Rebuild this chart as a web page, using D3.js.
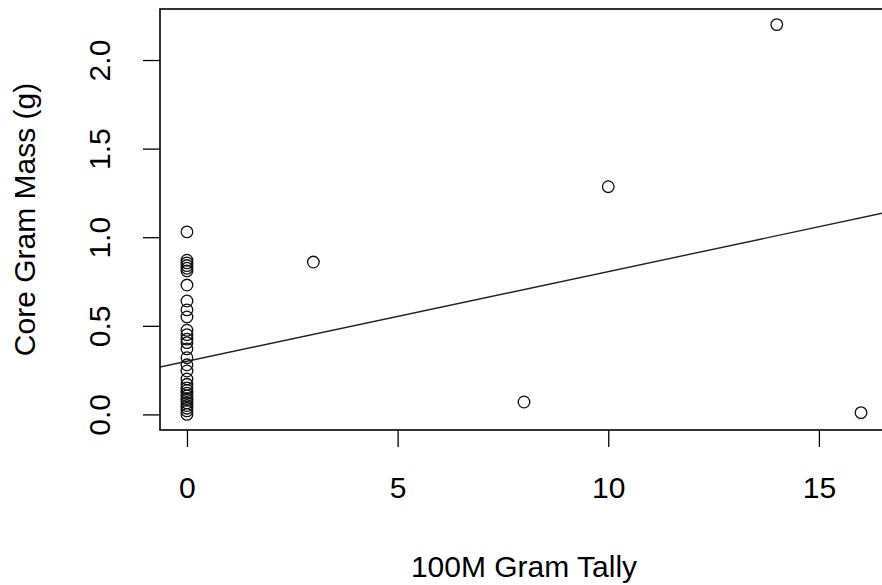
<!DOCTYPE html>
<html>
<head>
<meta charset="utf-8">
<script src="https://cdn.jsdelivr.net/npm/d3@7"></script>
<style>
  body { margin: 0; background: #fff; }
  #chart text { font-family: "Liberation Sans", Arial, sans-serif; fill: #000; }
</style>
</head>
<body>
<div id="chart"></div>
<script>
// tally (x) and core mass (y)
var tally = [0, 0, 0, 0, 0, 0, 0, 0, 0, 0, 0, 0, 0, 0, 0, 0,
  0, 0, 0, 0, 0, 0, 0, 0, 0, 0, 0, 0, 0, 0, 0,
  3, 8, 10, 14, 16];
var mass = [1.03, 0.87, 0.855, 0.84, 0.825, 0.81, 0.73, 0.64, 0.59, 0.55,
  0.475, 0.45, 0.425, 0.405, 0.37, 0.32, 0.28, 0.245, 0.20, 0.17,
  0.15, 0.135, 0.12, 0.105, 0.09, 0.08, 0.065, 0.05, 0.035, 0.02, 0.0,
  0.86, 0.07, 1.285, 2.2, 0.01];

// lm fit: intercept, slope
var fitCoef = [0.30, 0.0506];

var xTicks = [0, 5, 10, 15];
var yTicks = [0, 0.5, 1, 1.5, 2];
var yTickLabels = ['0.0', '0.5', '1.0', '1.5', '2.0'];

var xTitle = '100M Gram Tally';
var yTitle = 'Core Gram Mass (g)';

var width = 882, height = 585;
var box = { left: 160, right: 888, top: 9, bottom: 430 };
var fontSize = 30;

var svg = d3.select('#chart').append('svg')
  .attr('width', width)
  .attr('height', height);

svg.append('rect')
  .attr('width', width)
  .attr('height', height)
  .attr('fill', '#fff');

// R style 4% padding on both axes
var xMin = d3.min(tally), xMax = d3.max(tally);
var yMin = d3.min(mass), yMax = d3.max(mass);
var xPad = (xMax - xMin) * 0.04, yPad = (yMax - yMin) * 0.04;

var x = d3.scaleLinear()
  .domain([xMin - xPad, xMax + xPad])
  .range([box.left, box.right]);

var y = d3.scaleLinear()
  .domain([yMin - yPad, yMax + yPad])
  .range([box.bottom, box.top]);

svg.append('clipPath').attr('id', 'plotclip')
  .append('rect')
  .attr('x', box.left)
  .attr('y', box.top)
  .attr('width', box.right - box.left)
  .attr('height', box.bottom - box.top);

// x axis
var xAxis = svg.append('g')
  .attr('transform', 'translate(0,' + box.bottom + ')')
  .call(d3.axisBottom(x).tickValues(xTicks).tickSize(17).tickPadding(30)
    .tickFormat(d3.format('d')));
xAxis.select('.domain').remove();
xAxis.selectAll('line').attr('stroke', '#000').attr('stroke-width', 1.3);
xAxis.selectAll('text').style('font-size', fontSize + 'px');

// y axis, labels parallel to the axis like R
var yAxis = svg.append('g')
  .attr('transform', 'translate(' + box.left + ',0)')
  .call(d3.axisLeft(y).tickValues(yTicks).tickSize(17)
    .tickFormat(function (d, i) { return yTickLabels[i]; }));
yAxis.select('.domain').remove();
yAxis.selectAll('line').attr('stroke', '#000').attr('stroke-width', 1.3);
yAxis.selectAll('text')
  .style('font-size', fontSize + 'px')
  .attr('transform', 'rotate(-90)')
  .attr('x', 0)
  .attr('y', -50)
  .attr('dy', 0)
  .attr('text-anchor', 'middle');

// axis titles
svg.append('text')
  .attr('x', (box.left + box.right) / 2)
  .attr('y', 577)
  .attr('text-anchor', 'middle')
  .style('font-size', fontSize + 'px')
  .text(xTitle);

svg.append('text')
  .attr('transform', 'translate(35,' + ((box.top + box.bottom) / 2) + ') rotate(-90)')
  .attr('text-anchor', 'middle')
  .style('font-size', fontSize + 'px')
  .text(yTitle);

// regression line
var xd = x.domain();
svg.append('line')
  .attr('clip-path', 'url(#plotclip)')
  .attr('x1', x(xd[0]))
  .attr('y1', y(fitCoef[0] + fitCoef[1] * xd[0]))
  .attr('x2', x(xd[1]))
  .attr('y2', y(fitCoef[0] + fitCoef[1] * xd[1]))
  .attr('stroke', '#222')
  .attr('stroke-width', 1.4);

// points
svg.append('g').selectAll('circle')
  .data(tally)
  .enter().append('circle')
  .attr('cx', function (d) { return x(d); })
  .attr('cy', function (d, i) { return y(mass[i]); })
  .attr('r', 5.8)
  .attr('fill', 'none')
  .attr('stroke', '#111')
  .attr('stroke-width', 1.3);

// plot box
svg.append('rect')
  .attr('x', box.left)
  .attr('y', box.top)
  .attr('width', box.right - box.left)
  .attr('height', box.bottom - box.top)
  .attr('fill', 'none')
  .attr('stroke', '#000')
  .attr('stroke-width', 1.6);
</script>
</body>
</html>
